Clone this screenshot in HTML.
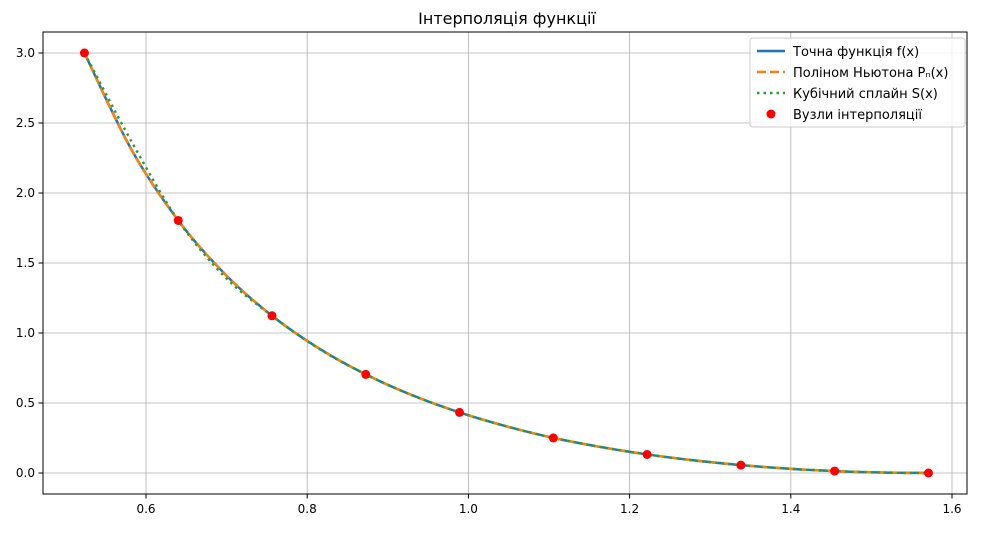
<!DOCTYPE html>
<html><head><meta charset="utf-8"><style>
body{margin:0;background:#fff;font-family:"Liberation Sans","DejaVu Sans",sans-serif}
svg text{font-family:"DejaVu Sans","Liberation Sans",sans-serif}
</style></head><body>
<svg id="chart" width="981" height="528">
<text x="507" y="24" font-size="16" text-anchor="middle">Інтерполяція функції</text>
<g id="grid"></g>
<g id="xticks"></g>
<g id="yticks"></g>
<g id="series"></g>
<rect x="43" y="32" width="924" height="462" fill="none" stroke="#000" stroke-width="1"/>
<g>
<rect x="750" y="38" width="215" height="89" rx="3" fill="#fff" fill-opacity="0.8" stroke="#ccc"/>
<line x1="757" y1="51" x2="785" y2="51" stroke="#1f77b4" stroke-width="2.5"/>
<text x="793" y="56" font-size="13">Точна функція f(x)</text>
<line x1="757" y1="72" x2="785" y2="72" stroke="#ff7f0e" stroke-width="2.5" stroke-dasharray="9,4"/>
<text x="793" y="77" font-size="13">Поліном Ньютона Pₙ(x)</text>
<line x1="757" y1="93" x2="785" y2="93" stroke="#2ca02c" stroke-width="2.5" stroke-dasharray="2.5,4"/>
<text x="793" y="98" font-size="13">Кубічний сплайн S(x)</text>
<circle cx="771" cy="114" r="4.5" fill="#ff0000"/>
<text x="793" y="119" font-size="13">Вузли інтерполяції</text>
</g>
</svg>
<script>
const xTicks=[0.6,0.8,1.0,1.2,1.4,1.6];
const yTicks=[0.0,0.5,1.0,1.5,2.0,2.5,3.0];
const curveX=[0.5236,0.5818,0.6400,0.6981,0.7563,0.8145,0.8727,0.9308,0.9890,1.0472,1.1054,1.1636,1.2217,1.2799,1.3381,1.3963,1.4544,1.5126,1.5708];
const exactY=[3.000,2.312,1.804,1.420,1.123,0.8905,0.7041,0.5543,0.4326,0.3333,0.2508,0.1861,0.1325,0.0900,0.0562,0.0311,0.0137,0.0034,0.0];
const newtonY=[3.000,2.310,1.804,1.421,1.123,0.8905,0.7041,0.5543,0.4326,0.3333,0.2508,0.1861,0.1325,0.0900,0.0562,0.0311,0.0137,0.0034,0.0];
const splineY=[3.000,2.370,1.804,1.400,1.123,0.8880,0.7041,0.5540,0.4326,0.3333,0.2508,0.1861,0.1325,0.0900,0.0562,0.0311,0.0137,0.0034,0.0];
const nodeX=[0.5236,0.6400,0.7563,0.8727,0.9890,1.1054,1.2217,1.3381,1.4544,1.5708];
const nodeY=[3.000,1.804,1.123,0.7041,0.4326,0.2508,0.1325,0.0562,0.0137,0.0];
const NS='http://www.w3.org/2000/svg';
const sx=v=>146+(v-0.6)*806;
const sy=v=>473-v*140;
function mk(t,a,p){const e=document.createElementNS(NS,t);for(const k in a)e.setAttribute(k,a[k]);p.appendChild(e);return e;}
const grid=document.getElementById('grid'),gx=document.getElementById('xticks'),gy=document.getElementById('yticks'),gs=document.getElementById('series');
xTicks.forEach(v=>{const x=sx(v);
const g=mk('line',{x1:x,x2:x,y1:32,y2:494,stroke:'#b0b0b0','stroke-width':0.8},grid);


const t=mk('line',{x1:x,x2:x,y1:494,y2:498.5,stroke:'#000'},gx);


const l=mk('text',{x:x,y:513,'font-size':12,'text-anchor':'middle'},gx);l.textContent=v.toFixed(1);

});
yTicks.forEach(v=>{const y=sy(v);
const g=mk('line',{x1:43,x2:967,y1:y,y2:y,stroke:'#b0b0b0','stroke-width':0.8},grid);


const t=mk('line',{x1:38.5,x2:43,y1:y,y2:y,stroke:'#000'},gy);


const l=mk('text',{x:35,y:y+4,'font-size':12,'text-anchor':'end'},gy);l.textContent=v.toFixed(1);

});
function path(xs,ys){const p=xs.map((x,i)=>[sx(x),sy(ys[i])]);let d='M'+p[0][0]+','+p[0][1];
for(let i=0;i<p.length-1;i++){const p0=p[Math.max(i-1,0)],p1=p[i],p2=p[i+1],p3=p[Math.min(i+2,p.length-1)];
d+=' C'+(p1[0]+(p2[0]-p0[0])/6)+','+(p1[1]+(p2[1]-p0[1])/6)+' '+(p2[0]-(p3[0]-p1[0])/6)+','+(p2[1]-(p3[1]-p1[1])/6)+' '+p2[0]+','+p2[1];}return d;}
const e1=mk('path',{d:path(curveX,exactY),fill:'none',stroke:'#1f77b4','stroke-width':2.5},gs);


const e2=mk('path',{d:path(curveX,newtonY),fill:'none',stroke:'#ff7f0e','stroke-width':2.5,'stroke-dasharray':'9,4'},gs);


const e3=mk('path',{d:path(curveX,splineY),fill:'none',stroke:'#2ca02c','stroke-width':2.5,'stroke-dasharray':'2.5,4'},gs);


nodeX.forEach((x,i)=>{const c=mk('circle',{cx:sx(x),cy:sy(nodeY[i]),r:4.5,fill:'#ff0000'},gs);

});
</script>
</body></html>
